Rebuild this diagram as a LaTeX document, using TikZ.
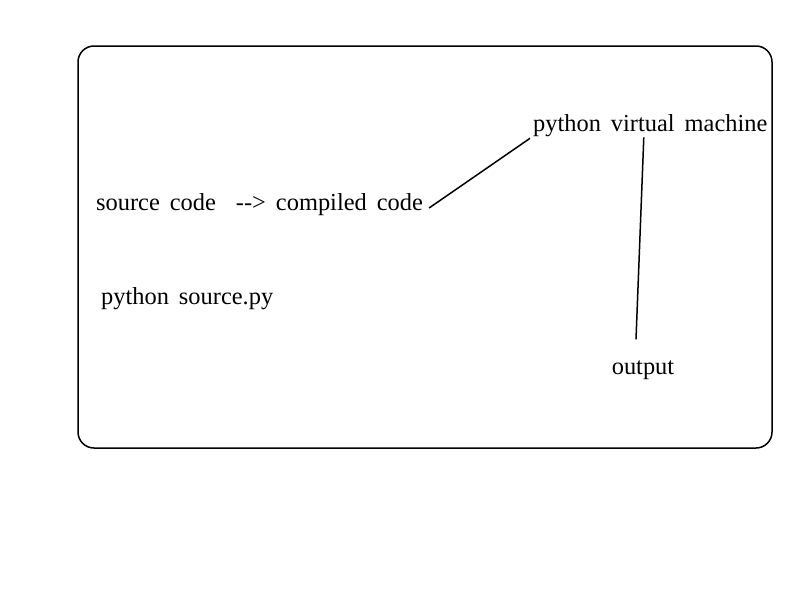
\documentclass[tikz,border=0pt]{standalone}
\usepackage{fontspec}
\setmainfont{Liberation Serif}
\usepackage{tikz}
\usetikzlibrary{arrows,shapes}

\begin{document}
\begin{tikzpicture}[txt/.style={inner sep=0pt,font=\fontsize{24.5}{28}\selectfont,execute at begin node={\spaceskip=10bp plus 1bp\relax}}]
\useasboundingbox (0bp,0bp) rectangle (800bp,-600bp);
\node (frame) at (425bp,-247bp)[draw,line width=1.5bp,rounded corners=16bp,minimum width=694bp,minimum height=402bp] {};
\node (src) at (96bp,-205bp)[txt,anchor=west] {source code \ {-}{-}> compiled code};
\node (pvm) at (533bp,-126bp)[txt,anchor=west] {python virtual machine};
\node (cmd) at (101bp,-299bp)[txt,anchor=west] {python source.py};
\node (out) at (643bp,-370bp)[txt] {output};
\draw [line width=1.5bp] ([xshift=6bp,yshift=-3bp]src.east) -- ([xshift=-3bp,yshift=-1bp]pvm.south west);
\draw [line width=1.5bp] ([xshift=-6.5bp,yshift=0bp]pvm.south) -- ([xshift=-7bp,yshift=21bp]out.north);
\end{tikzpicture}
\end{document}
